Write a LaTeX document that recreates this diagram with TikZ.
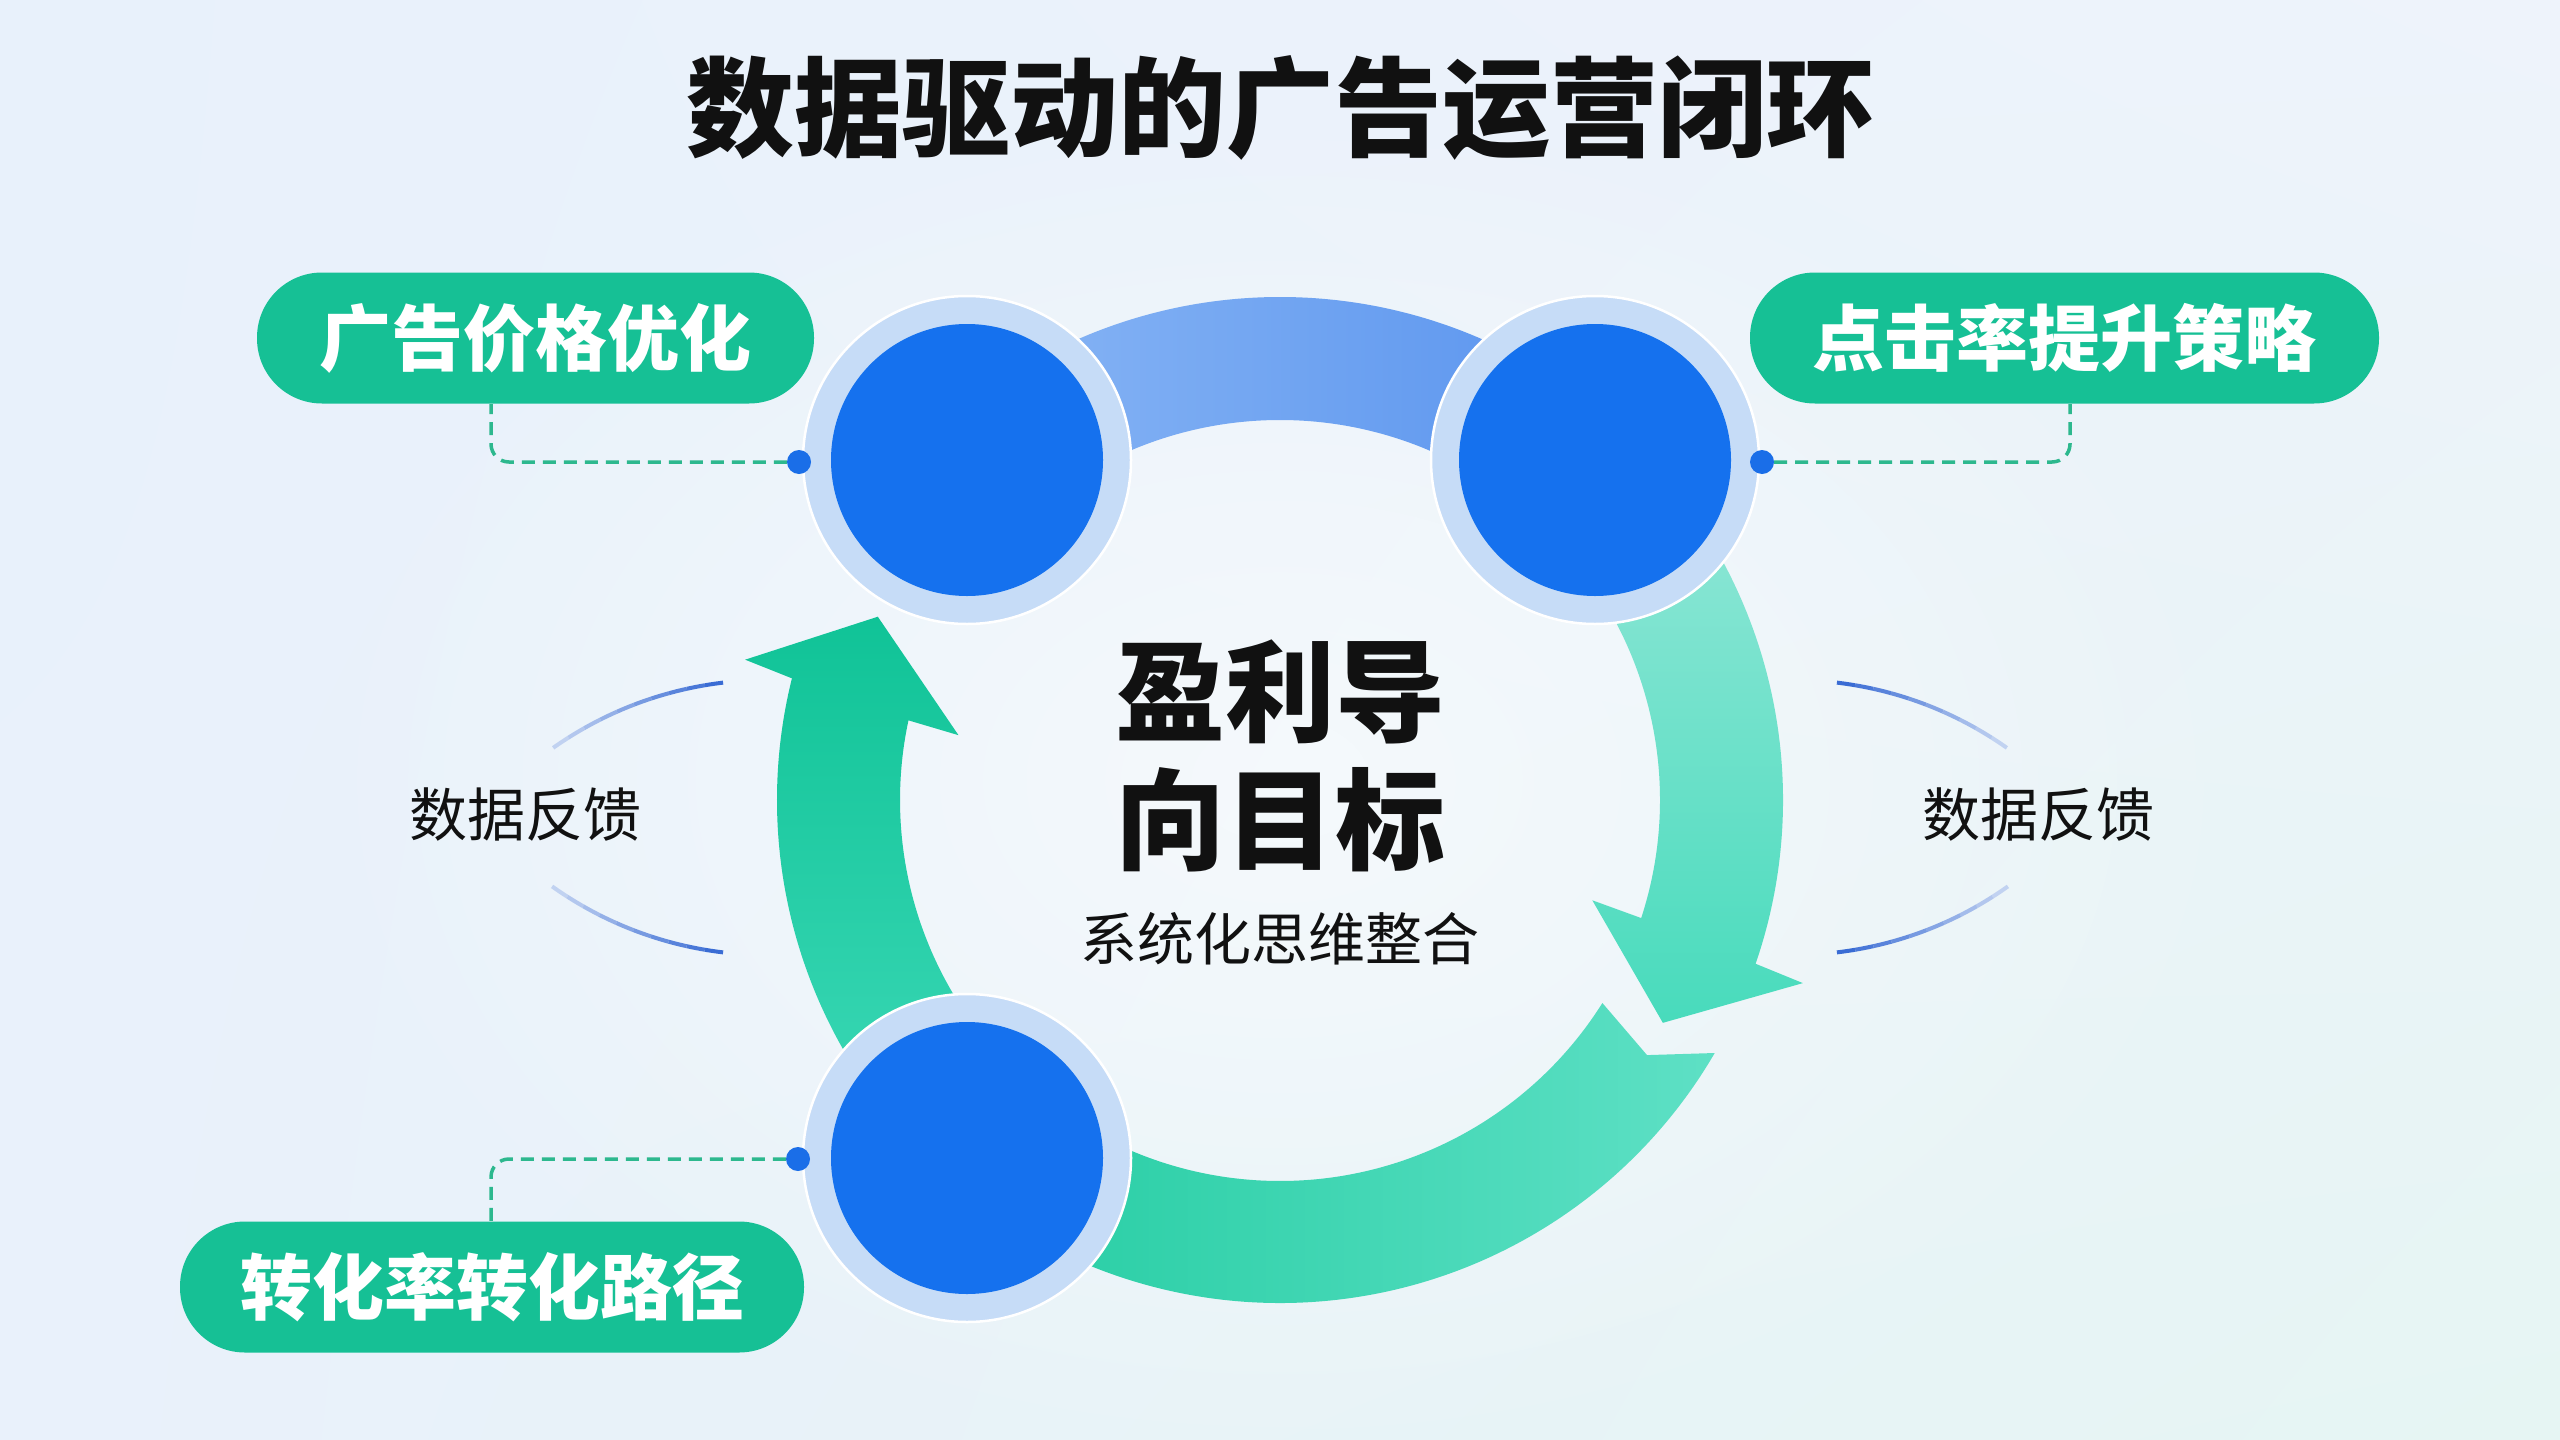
\documentclass[tikz,border=0pt]{standalone}
\usepackage{fontspec}
\newfontfamily\cjk{Noto Sans CJK SC}
\usetikzlibrary{fadings,shadings}
\definecolor{bgTL}{HTML}{E8F1FB}
\definecolor{bgTR}{HTML}{EEF3FB}
\definecolor{bgBL}{HTML}{E9F1FB}
\definecolor{bgBR}{HTML}{E6F5F3}
\definecolor{bgc}{HTML}{EEF4FB}
\definecolor{topL}{HTML}{8CB8F5}
\definecolor{topR}{HTML}{5792EE}
\definecolor{raT}{HTML}{9AE8DA}
\definecolor{raB}{HTML}{48DBBC}
\definecolor{baL}{HTML}{1FCB9F}
\definecolor{baR}{HTML}{5EE0C5}
\definecolor{laT}{HTML}{10C397}
\definecolor{laB}{HTML}{3DD9B7}
\definecolor{ringc}{HTML}{C6DCF7}
\definecolor{corec}{HTML}{1571EE}
\definecolor{dotc}{HTML}{1A6EE8}
\definecolor{pillc}{HTML}{16C095}
\definecolor{connc}{HTML}{2DB88E}
\definecolor{fbblue}{HTML}{3A6CD4}
\definecolor{txt}{HTML}{111111}
\tikzfading[name=glow, inner color=transparent!0, outer color=transparent!100]
\newcommand\fbarc[4]{%
  \foreach \k in {0,...,9}{%
    \pgfmathsetmacro\sa{#3+\k*(#4-#3)/10}%
    \pgfmathsetmacro\ea{#3+(\k+1)*(#4-#3)/10}%
    \pgfmathtruncatemacro\pc{25+75*\k/9}%
    \draw[fbline, draw=fbblue!\pc!bgc] ([shift={(#1,#2)}]\sa:371pt) arc[start angle=\sa, end angle=\ea, radius=371pt];
  }%
}
\begin{document}
\begin{tikzpicture}[x=1pt,y=1pt,
  ringnode/.style={circle, fill=ringc, draw=white, line width=2.5pt, minimum size=328pt, inner sep=0pt},
  dotnode/.style={circle, fill=dotc, minimum size=24pt, inner sep=0pt},
  pill/.style={rectangle, rounded corners=65pt, fill=pillc, text=white, minimum height=131pt, inner sep=0pt,
    font=\cjk\bfseries\fontsize{72}{80}\selectfont},
  conn/.style={draw=connc, line width=3.5pt, dash pattern=on 13pt off 8pt, rounded corners=18pt},
  fbline/.style={line width=4pt},
  fbtext/.style={text=txt, font=\cjk\fontsize{58}{64}\selectfont},
  bigtext/.style={text=txt, font=\cjk\bfseries\fontsize{110}{120}\selectfont}
]
\useasboundingbox (0,0) rectangle (2560,-1440);
\shade[upper left=bgTL, upper right=bgTR, lower left=bgBL, lower right=bgBR] (0,0) rectangle (2560,-1440);
\fill[white, opacity=0.55, path fading=glow] (1280,-780) ellipse [x radius=1000pt, y radius=700pt];

% title
\node[text=txt, font=\cjk\bfseries\fontsize{108}{120}\selectfont] (title) at (1280,-108) {数据驱动的广告运营闭环};

% ring segments
\begin{scope}[shift={(1280,-800)}]
  \shade[left color=topL, right color=topR]
    (135:503pt) arc[start angle=135, end angle=45, radius=503pt]
    -- (45:380pt) arc[start angle=45, end angle=135, radius=380pt] -- cycle;
  \shade[top color=raT, bottom color=raB]
    (50:503pt) arc[start angle=50, end angle=-19, radius=503pt]
    -- (-19.3:554pt) -- (-30.2:443pt) -- (-17.8:328pt) -- (-18.1:380pt)
    arc[start angle=-18.1, end angle=50, radius=380pt] -- cycle;
  \shade[left color=baL, right color=baR]
    (-30.2:503pt) -- (-34.8:447pt) -- (-32.2:381pt)
    arc[start angle=-32.2, end angle=-140, radius=381pt]
    -- (-140:503pt) arc[start angle=-140, end angle=-30.2, radius=503pt] -- cycle;
  \shade[top color=laT, bottom color=laB]
    (225:503pt) arc[start angle=225, end angle=166, radius=503pt]
    -- (165.3:553pt) -- (155.5:442pt) -- (168.6:328pt) -- (167.9:380pt)
    arc[start angle=167.9, end angle=225, radius=380pt] -- cycle;
\end{scope}

% circles
\node[ringnode] (n1) at (967,-460) {};
\node[ringnode] (n2) at (1595,-460) {};
\node[ringnode] (n3) at (967,-1158) {};
\fill[corec] (n1.center) circle[radius=136pt];
\fill[corec] (n2.center) circle[radius=136pt];
\fill[corec] (n3.center) circle[radius=136pt];

% pills
\node[pill, minimum width=557pt] (p1) at (535.5,-338) {广告价格优化};
\node[pill, minimum width=629pt] (p2) at (2064.5,-338) {点击率提升策略};
\node[pill, minimum width=624pt] (p3) at (492,-1287) {转化率转化路径};

% dots and connectors
\node[dotnode] (d1) at (799,-462) {};
\node[dotnode] (d2) at (1762,-462) {};
\node[dotnode] (d3) at (798,-1159) {};
\coordinate (c1) at (491,-404);
\coordinate (c2) at (2070,-404);
\coordinate (c3) at (491,-1221);
\draw[conn] (d1.west) -| (c1);
\draw[conn] (d2.east) -| (c2);
\draw[conn] (d3.west) -| (c3);

% feedback labels and arcs
\node[fbtext] (fbL) at (525,-815) {数据反馈};
\node[fbtext] (fbR) at (2038,-815) {数据反馈};
\fbarc{767}{-1051}{125.2}{96.8}
\fbarc{767}{-584}{-125.4}{-96.8}
\fbarc{1793}{-1051}{54.8}{83.2}
\fbarc{1793}{-584}{-54.6}{-83.2}

% center
\node[bigtext] (c1t) at (1280,-692) {盈利导};
\node[bigtext] (c2t) at (1280,-820) {向目标};
\node[text=txt, font=\cjk\fontsize{57}{64}\selectfont] (c3t) at (1280,-939) {系统化思维整合};
\end{tikzpicture}
\end{document}
